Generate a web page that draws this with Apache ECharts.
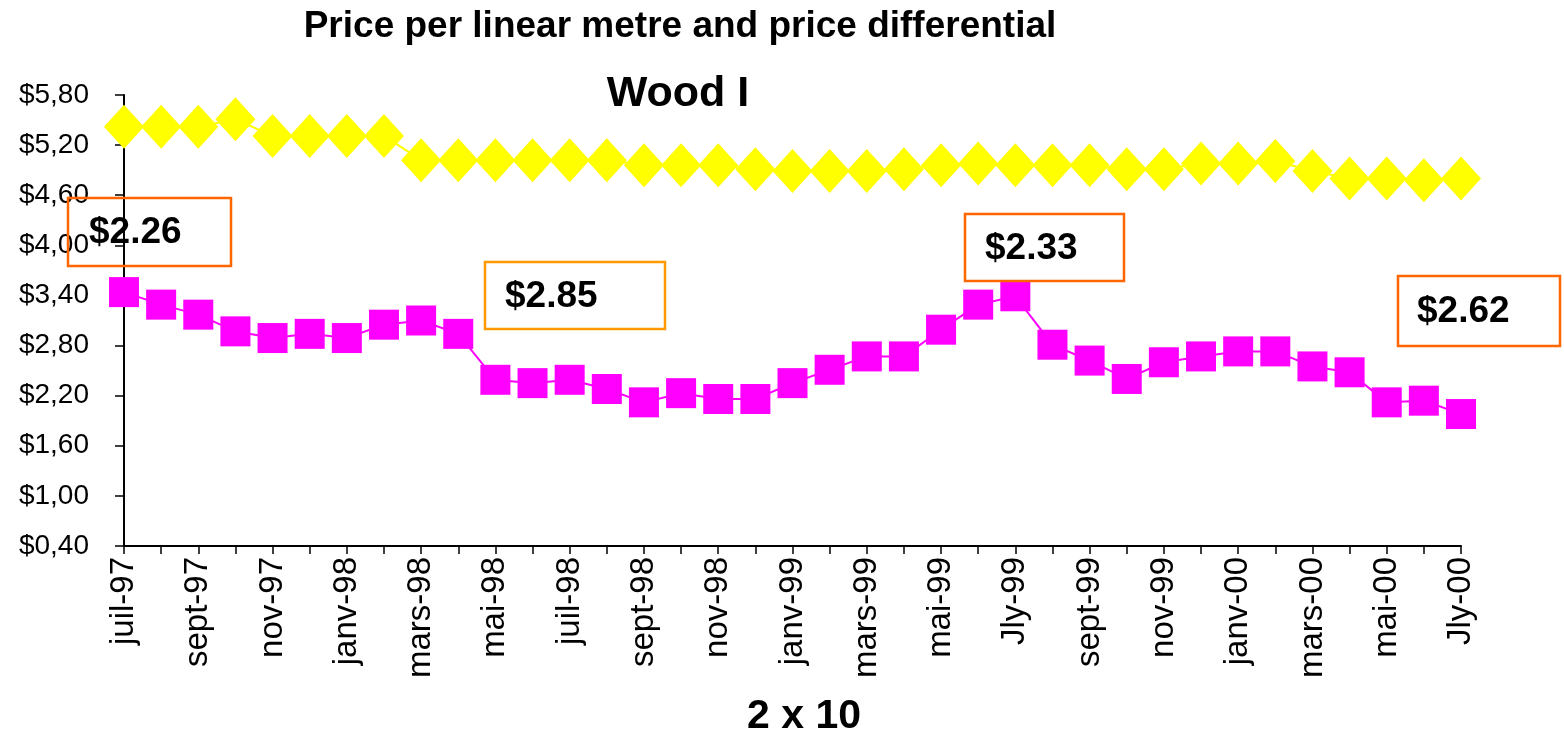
<!DOCTYPE html>
<html>
<head>
<meta charset="utf-8">
<script src="https://cdn.jsdelivr.net/npm/echarts@6/dist/echarts.min.js"></script>
<style>
  html, body { margin: 0; padding: 0; background: #fff; }
  #chart { width: 1564px; height: 734px; }
</style>
</head>
<body>
<div id="chart"></div>
<script>
  // months, one point per month (only every other label is shown)
  let months = [
    'juil-97', 'août-97', 'sept-97', 'oct-97', 'nov-97', 'déc-97',
    'janv-98', 'févr-98', 'mars-98', 'avr-98', 'mai-98', 'juin-98',
    'juil-98', 'août-98', 'sept-98', 'oct-98', 'nov-98', 'déc-98',
    'janv-99', 'févr-99', 'mars-99', 'avr-99', 'mai-99', 'juin-99',
    'Jly-99', 'août-99', 'sept-99', 'oct-99', 'nov-99', 'déc-99',
    'janv-00', 'févr-00', 'mars-00', 'avr-00', 'mai-00', 'juin-00',
    'Jly-00'
  ];

  // yellow diamonds
  let upperPrice = [
    5.42, 5.42, 5.42, 5.51, 5.31, 5.31, 5.31, 5.31, 5.02, 5.02, 5.02, 5.02,
    5.02, 5.02, 4.96, 4.96, 4.96, 4.91, 4.89, 4.89, 4.89, 4.91, 4.96, 4.98,
    4.96, 4.96, 4.96, 4.91, 4.91, 4.98, 4.98, 5.01, 4.89, 4.80, 4.80, 4.78,
    4.80
  ];

  // magenta squares
  let lowerPrice = [
    3.44, 3.29, 3.17, 2.97, 2.89, 2.94, 2.89, 3.05, 3.10, 2.94, 2.39, 2.35,
    2.39, 2.28, 2.12, 2.23, 2.16, 2.16, 2.35, 2.51, 2.67, 2.67, 2.99, 3.29,
    3.39, 2.81, 2.62, 2.40, 2.60, 2.67, 2.73, 2.73, 2.55, 2.48, 2.12, 2.14,
    1.98
  ];

  let yMin = 0.4;
  let yMax = 5.8;
  let yStep = 0.6;

  // price differential call-outs
  let diffLabels = ['$2.26', '$2.85', '$2.33', '$2.62'];

  let mChart = echarts.init(document.getElementById('chart'));

  let font = '"Liberation Sans", Arial, sans-serif';

  let boxes = [
    { x: 68, y: 198, w: 163, h: 68, tx: 89, color: '#ff6600' },
    { x: 485, y: 262, w: 180, h: 67, tx: 505, color: '#ff9900' },
    { x: 965, y: 214, w: 159, h: 67, tx: 985, color: '#ff6600' },
    { x: 1398, y: 276, w: 162, h: 70, tx: 1417, color: '#ff6600' }
  ];

  let graphics = [];
  boxes.forEach(function (b, i) {
    graphics.push({
      type: 'rect',
      shape: { x: b.x, y: b.y, width: b.w, height: b.h },
      style: { fill: 'rgba(255,255,255,0)', stroke: b.color, lineWidth: 2.5 },
      z: 10
    });
    graphics.push({
      type: 'text',
      x: b.tx,
      y: b.y + b.h / 2 + 1,
      style: {
        text: diffLabels[i],
        font: 'bold 37px ' + font,
        fill: '#000',
        verticalAlign: 'middle'
      },
      z: 11
    });
  });

  let options = {
    animation: false,
    backgroundColor: '#fff',
    title: [
      {
        text: 'Price per linear metre and price differential',
        left: 675,
        top: 3,
        textAlign: 'center',
        textStyle: { fontFamily: font, fontWeight: 'bold', fontSize: 37, color: '#000' }
      },
      {
        text: 'Wood I',
        left: 673,
        top: 68,
        textAlign: 'center',
        textStyle: { fontFamily: font, fontWeight: 'bold', fontSize: 43, color: '#000' }
      },
      {
        text: '2 x 10',
        left: 799,
        top: 691,
        textAlign: 'center',
        textStyle: { fontFamily: font, fontWeight: 'bold', fontSize: 41, color: '#000' }
      }
    ],
    grid: {
      left: 124,
      right: 103,
      top: 95,
      bottom: 188,
      outerBoundsMode: 'none',
      containLabel: false
    },
    xAxis: {
      type: 'category',
      boundaryGap: false,
      data: months,
      axisLine: { lineStyle: { color: '#000', width: 2 } },
      axisTick: { show: true, interval: 0, length: 8, lineStyle: { color: '#000', width: 1.5 } },
      axisLabel: {
        interval: 1,
        rotate: 90,
        margin: 11,
        fontFamily: font,
        fontSize: 33,
        color: '#000'
      },
      splitLine: { show: false }
    },
    yAxis: {
      type: 'value',
      min: yMin,
      max: yMax,
      interval: yStep,
      axisLine: { show: true, lineStyle: { color: '#000', width: 2 } },
      axisTick: { show: true, length: 9, lineStyle: { color: '#000', width: 1.5 } },
      axisLabel: {
        margin: 35,
        fontFamily: font,
        fontSize: 28,
        color: '#000',
        formatter: function (v) {
          return '$' + v.toFixed(2).replace('.', ',');
        }
      },
      splitLine: { show: false }
    },
    series: [
      {
        type: 'line',
        name: 'upper',
        data: upperPrice,
        symbol: 'diamond',
        symbolSize: [40, 44],
        showAllSymbol: true,
        lineStyle: { color: '#ffff00', width: 2 },
        itemStyle: { color: '#ffff00' },
        z: 3
      },
      {
        type: 'line',
        name: 'lower',
        data: lowerPrice,
        symbol: 'rect',
        symbolSize: [30, 30],
        showAllSymbol: true,
        lineStyle: { color: '#ff00ff', width: 2 },
        itemStyle: { color: '#ff00ff' },
        z: 3
      }
    ],
    graphic: graphics
  };
  mChart.setOption(options);
</script>
</body>
</html>
